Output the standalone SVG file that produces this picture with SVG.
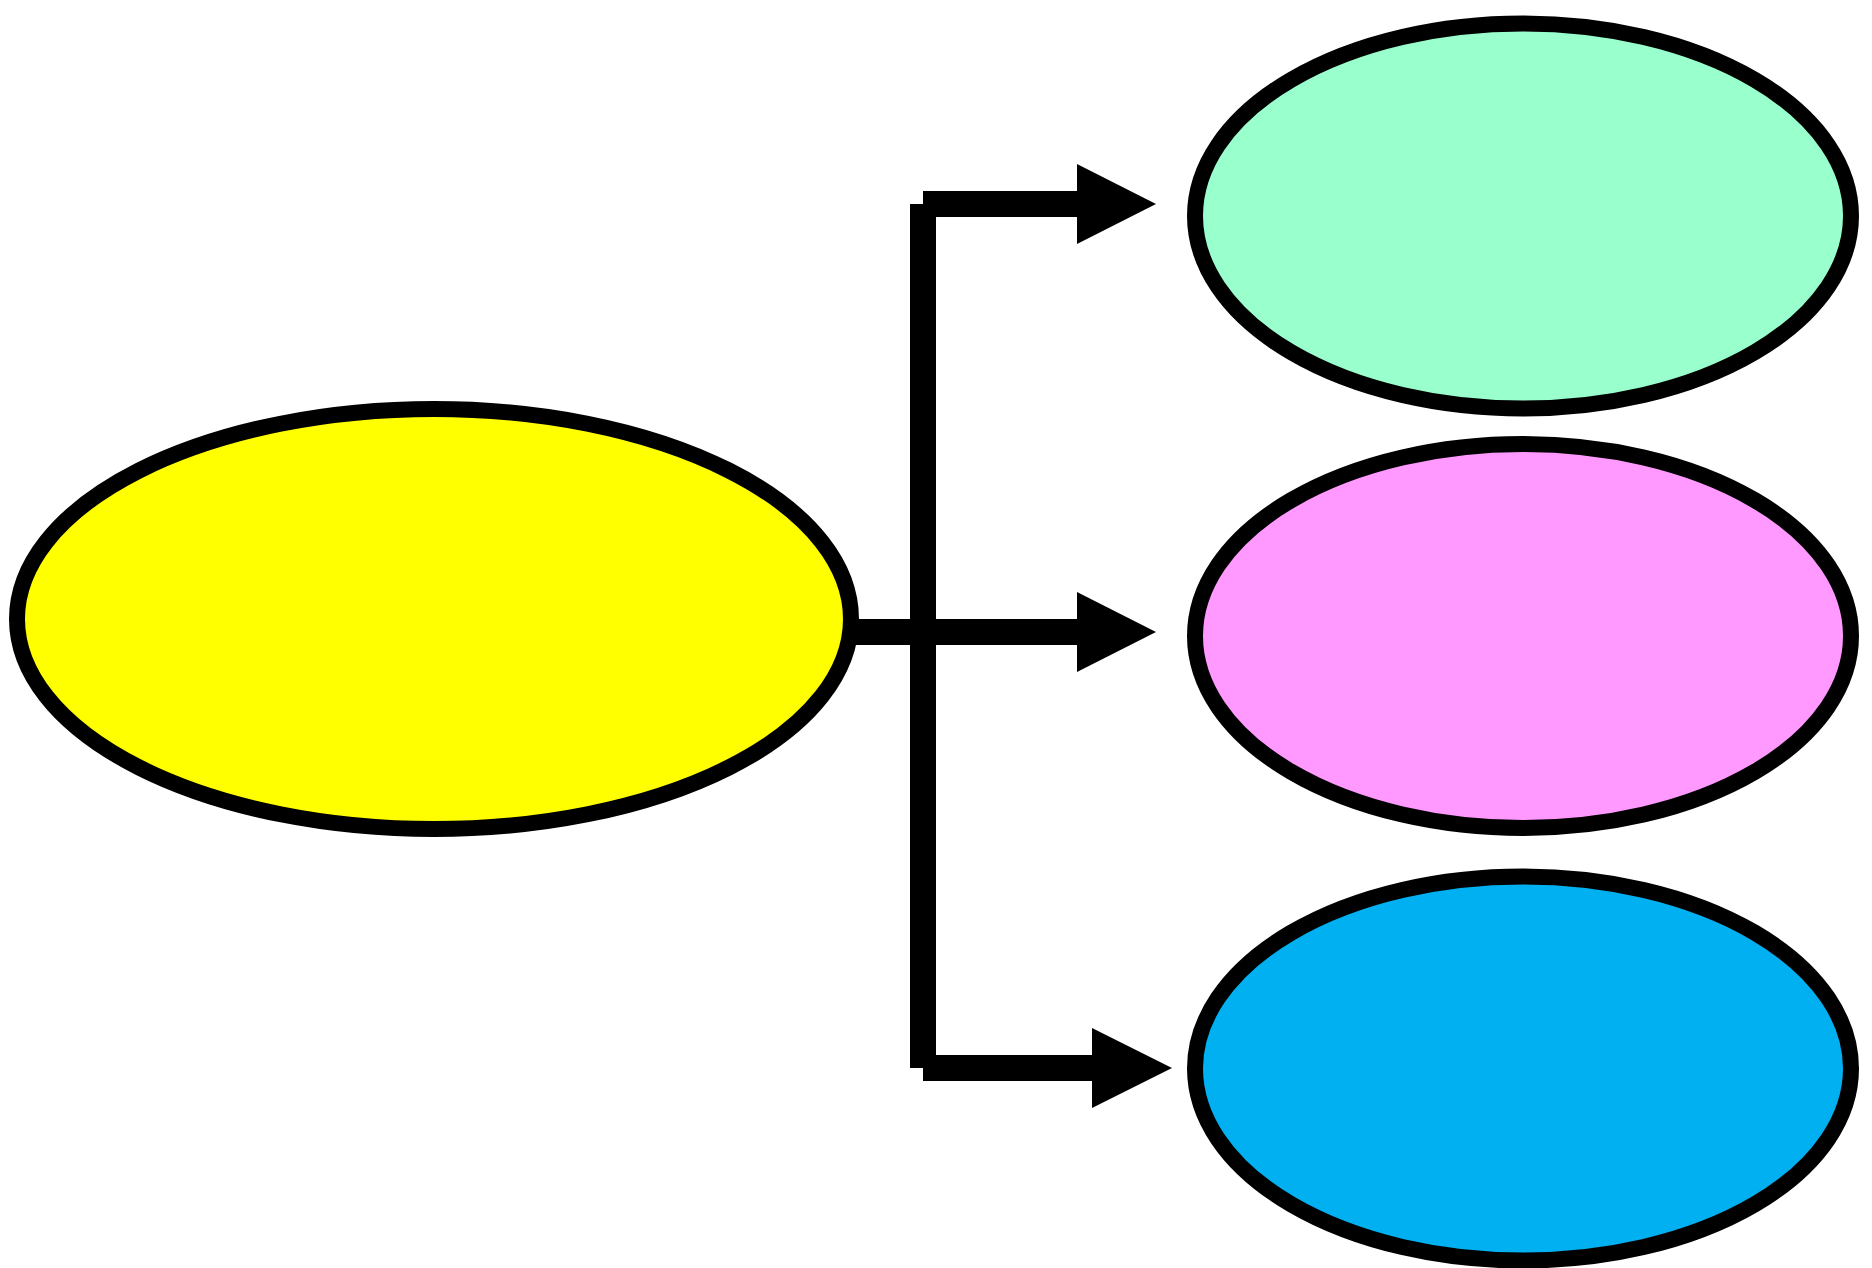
<svg xmlns="http://www.w3.org/2000/svg" width="1872" height="1268" viewBox="0 0 1872 1268">
<style>
.node{stroke:#000;stroke-width:16}
.conn{stroke:#000;stroke-width:26;fill:none;stroke-linecap:butt}
.head{fill:#000}
</style>
<rect width="1872" height="1268" fill="#fff"/>
<g id="connectors">
<line class="conn" x1="923" y1="204" x2="923" y2="1068"/>
<line class="conn" x1="923" y1="204" x2="1078" y2="204"/>
<line class="conn" x1="851" y1="632" x2="1078" y2="632"/>
<line class="conn" x1="923" y1="1068" x2="1093" y2="1068"/>
<polygon class="head" points="1077,164 1156,204 1077,244"/>
<polygon class="head" points="1077,592 1156,632 1077,672"/>
<polygon class="head" points="1092,1028 1172,1068 1092,1108"/>
</g>
<g id="node-yellow"><ellipse class="node" cx="434" cy="619" rx="417" ry="210" fill="#FFFF00"/></g>
<g id="node-green"><ellipse class="node" cx="1523" cy="216" rx="328" ry="192.5" fill="#99FFCC"/></g>
<g id="node-pink"><ellipse class="node" cx="1523" cy="636" rx="328" ry="192" fill="#FF99FF"/></g>
<g id="node-blue"><ellipse class="node" cx="1523" cy="1068.5" rx="328" ry="192" fill="#00B0F0"/></g>
</svg>
